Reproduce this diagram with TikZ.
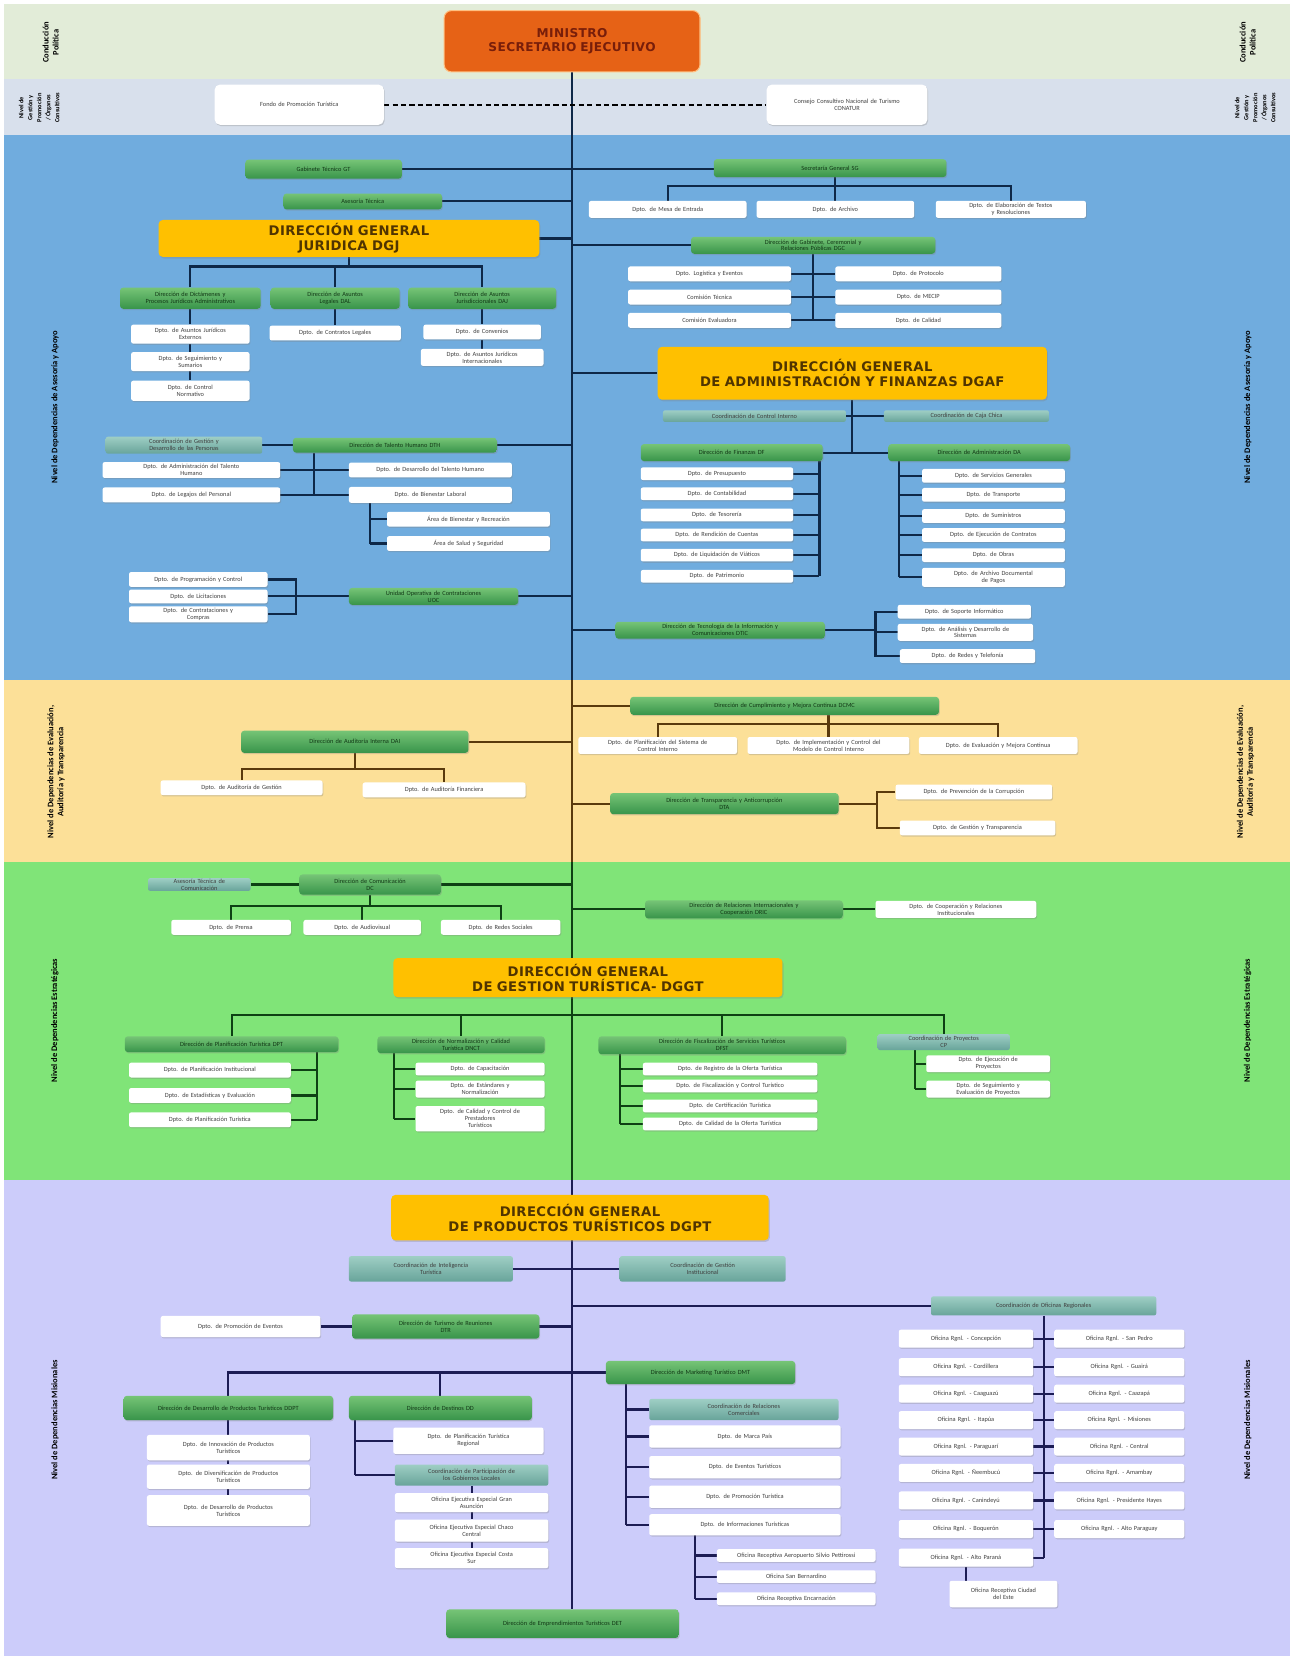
\documentclass[tikz,border=0pt]{standalone}
\usepackage{fontspec}
\setmainfont{Carlito}
\newfontfamily\headfont[LetterSpace=3.0]{DejaVu Sans}
\usetikzlibrary{shadows}

\definecolor{bandtop}{RGB}{226,236,216}
\definecolor{bandcons}{RGB}{216,224,236}
\definecolor{bandblue}{RGB}{112,172,222}
\definecolor{bandyel}{RGB}{252,224,152}
\definecolor{bandgrn}{RGB}{128,228,120}
\definecolor{bandpur}{RGB}{204,204,250}
\definecolor{orgorange}{RGB}{230,98,22}
\definecolor{ministxt}{RGB}{120,30,10}
\definecolor{orggold}{RGB}{255,192,0}
\definecolor{dirtxt}{RGB}{80,52,0}
\definecolor{grntop}{RGB}{118,196,118}
\definecolor{grnbot}{RGB}{56,148,74}
\definecolor{grntxt}{RGB}{18,56,22}
\definecolor{cortop}{RGB}{158,206,196}
\definecolor{corbot}{RGB}{104,164,154}
\definecolor{lnblue}{RGB}{14,40,72}
\definecolor{lnyel}{RGB}{90,58,12}
\definecolor{lngrn}{RGB}{14,64,20}
\definecolor{lnpur}{RGB}{28,28,84}

\pgfdeclarelayer{bands}
\pgfdeclarelayer{links}
\pgfsetlayers{bands,links,main}

\tikzset{
  sz/.style 2 args={minimum width=#1pt, text width=#1pt, minimum height=#2pt},
  boxtext/.style={inner xsep=0pt, inner ysep=0.5pt, align=center, font=\fontsize{6}{6.6}\selectfont},
  wbox/.style={boxtext, fill=white, rounded corners=2pt, text=black!75,
    drop shadow={shadow xshift=0.8pt, shadow yshift=-1.2pt, opacity=0.3}},
  gbox/.style={boxtext, top color=grntop, bottom color=grnbot, rounded corners=3pt, text=grntxt,
    drop shadow={shadow xshift=0.8pt, shadow yshift=-1.2pt, opacity=0.3}},
  cbox/.style={boxtext, top color=cortop, bottom color=corbot, rounded corners=2pt, text=black!75},
  dbox/.style={fill=orggold, rounded corners=4pt, inner sep=0pt, align=center, text=dirtxt,
    font=\headfont\bfseries\fontsize{12.5}{14}\selectfont,
    drop shadow={shadow xshift=1pt, shadow yshift=-1.5pt, opacity=0.3}},
  mbox/.style={fill=orgorange, draw=orange!50!white, line width=1pt, rounded corners=7pt,
    inner sep=0pt, align=center, text=ministxt, font=\headfont\bfseries\fontsize{11.5}{13.5}\selectfont},
  lvl/.style={rotate=90, align=center, inner sep=0pt, font=\bfseries\fontsize{8}{9.5}\selectfont},
  lnB/.style={draw=lnblue, line width=2pt},
  lnY/.style={draw=lnyel, line width=2pt},
  lnG/.style={draw=lngrn, line width=2pt},
  lnP/.style={draw=lnpur, line width=2pt},
}

\begin{document}
\begin{tikzpicture}[x=1pt,y=-1pt]
\useasboundingbox (0,0) rectangle (1223,1568);
\begin{pgfonlayer}{bands}
  \fill[white] (0,0) rectangle (1223,1568);
  \fill[bandtop] (4,4) rectangle (1220,75);
  \fill[bandcons] (4,75) rectangle (1220,128);
  \fill[bandblue] (4,128) rectangle (1220,643);
  \fill[bandyel] (4,643) rectangle (1220,815);
  \fill[bandgrn] (4,815) rectangle (1220,1116);
  \fill[bandpur] (4,1116) rectangle (1220,1566);
\end{pgfonlayer}

% levels
\node[lvl] (lvtl) at (48,40) {Conducción\\Política};
\node[lvl] (lvtr) at (1180,40) {Conducción\\Política};
\node[lvl, font=\bfseries\fontsize{6}{8.5}\selectfont] (lvcl) at (37,102) {Nivel de\\Gestión y\\Promoción\\/ Órganos\\Consultivos};
\node[lvl, font=\bfseries\fontsize{6}{8.5}\selectfont] (lvcr) at (1187,102) {Nivel de\\Gestión y\\Promoción\\/ Órganos\\Consultivos};
\node[lvl] (lvbl) at (52,385) {Nivel de Dependencias de Asesoría y Apoyo};
\node[lvl] (lvbr) at (1180,385) {Nivel de Dependencias de Asesoría y Apoyo};
\node[lvl] (lvyl) at (53,730) {Nivel de Dependencias de Evaluación,\\Auditoría y Transparencia};
\node[lvl] (lvyr) at (1178,730) {Nivel de Dependencias de Evaluación,\\Auditoría y Transparencia};
\node[lvl] (lvgl) at (52,965) {Nivel de Dependencias Estratégicas};
\node[lvl] (lvgr) at (1180,965) {Nivel de Dependencias Estratégicas};
\node[lvl] (lvpl) at (52,1343) {Nivel de Dependencias Misionales};
\node[lvl] (lvpr) at (1180,1343) {Nivel de Dependencias Misionales};

% conduccion
\node[mbox] (mnt) at (541,39) [sz={242}{58}] {MINISTRO\\SECRETARIO EJECUTIVO};
\node[wbox, rounded corners=5pt, font=\fontsize{6}{7}\selectfont] (fondo) at (283,99) [sz={160}{38}] {Fondo de Promoción Turística};
\node[wbox, rounded corners=5pt, font=\fontsize{6}{7}\selectfont] (conatur) at (801,99) [sz={152}{38}] {Consejo Consultivo Nacional de Turismo\\CONATUR};

% asesoria y apoyo
\node[gbox] (gt) at (306,160) [sz={148}{18}] {Gabinete Técnico GT};
\node[gbox] (sg) at (785,159) [sz={220}{17}] {Secretaría General SG};
\node[wbox] (sg1) at (631.5,198) [sz={149}{16}] {Dpto. de Mesa de Entrada};
\node[wbox] (sg2) at (790,198) [sz={149}{16}] {Dpto. de Archivo};
\node[wbox] (sg3) at (956,198) [sz={142}{16}] {Dpto. de Elaboración de Textos\\y Resoluciones};
\node[gbox] (ases) at (343,190.5) [sz={150}{15}] {Asesoría Técnica};
\node[dbox] (dgj) at (330,225.5) [sz={360}{35}] {DIRECCIÓN GENERAL\\JURIDICA DGJ};
\node[gbox] (dgab) at (769,232) [sz={231}{16}] {Dirección de Gabinete, Ceremonial y\\Relaciones Públicas DGC};
\node[wbox] (gl1) at (671,259) [sz={154}{14}] {Dpto. Logística y Eventos};
\node[wbox] (gl2) at (671,281) [sz={154}{14}] {Comisión Técnica};
\node[wbox] (gl3) at (671,303) [sz={154}{14}] {Comisión Evaluadora};
\node[wbox] (gr1) at (868.5,259) [sz={157}{14}] {Dpto. de Protocolo};
\node[wbox] (gr2) at (868.5,281) [sz={157}{14}] {Dpto. de MECIP};
\node[wbox] (gr3) at (868.5,303) [sz={157}{14}] {Dpto. de Calidad};
\node[gbox] (dj1) at (180,282) [sz={133}{20}] {Dirección de Dictámenes y\\Procesos Jurídicos Administrativos};
\node[gbox] (dj2) at (317,282) [sz={122}{20}] {Dirección de Asuntos\\Legales DAL};
\node[gbox] (dj3) at (456,282) [sz={140}{20}] {Dirección de Asuntos\\Jurisdiccionales DAJ};
\node[wbox] (dj1a) at (180,316) [sz={112}{18}] {Dpto. de Asuntos Jurídicos\\Externos};
\node[wbox] (dj1b) at (180,342) [sz={112}{18}] {Dpto. de Seguimiento y\\Sumarios};
\node[wbox] (dj1c) at (180,369.5) [sz={112}{19}] {Dpto. de Control\\Normativo};
\node[wbox] (dj2a) at (317,315) [sz={124}{14}] {Dpto. de Contratos Legales};
\node[wbox] (dj3a) at (456,314) [sz={111}{14}] {Dpto. de Convenios};
\node[wbox] (dj3b) at (456,338) [sz={116}{16}] {Dpto. de Asuntos Jurídicos\\Internacionales};
\node[dbox] (dgaf) at (806,353) [sz={368}{50}] {DIRECCIÓN GENERAL\\DE ADMINISTRACIÓN Y FINANZAS DGAF};
\node[cbox] (cc1) at (713.5,393.5) [sz={173}{11}] {Coordinación de Control Interno};
\node[cbox] (cc2) at (914,393.5) [sz={156}{11}] {Coordinación de Caja Chica};
\node[gbox] (df) at (692,428) [sz={172}{16}] {Dirección de Finanzas DF};
\node[gbox] (da) at (926,428) [sz={172}{16}] {Dirección de Administración DA};
\node[wbox] (df1) at (678,448) [sz={144}{12}] {Dpto. de Presupuesto};
\node[wbox] (df2) at (678,467) [sz={144}{12}] {Dpto. de Contabilidad};
\node[wbox] (df3) at (678,487) [sz={144}{12}] {Dpto. de Tesorería};
\node[wbox] (df4) at (678,506) [sz={144}{12}] {Dpto. de Rendición de Cuentas};
\node[wbox] (df5) at (678,525) [sz={144}{12}] {Dpto. de Liquidación de Viáticos};
\node[wbox] (df6) at (678,545) [sz={144}{12}] {Dpto. de Patrimonio};
\node[wbox] (da1) at (939.5,450) [sz={135}{13}] {Dpto. de Servicios Generales};
\node[wbox] (da2) at (939.5,468) [sz={135}{13}] {Dpto. de Transporte};
\node[wbox] (da3) at (939.5,488) [sz={135}{13}] {Dpto. de Suministros};
\node[wbox] (da4) at (939.5,506) [sz={135}{13}] {Dpto. de Ejecución de Contratos};
\node[wbox] (da5) at (939.5,525) [sz={135}{13}] {Dpto. de Obras};
\node[wbox] (da6) at (939.5,546) [sz={135}{18}] {Dpto. de Archivo Documental\\de Pagos};
\node[cbox] (cgp) at (174,421) [sz={148}{16}] {Coordinación de Gestión y\\Desarrollo de las Personas};
\node[gbox] (dth) at (373.5,421) [sz={193}{14}] {Dirección de Talento Humano DTH};
\node[wbox] (th1) at (181,444.5) [sz={168}{15}] {Dpto. de Administración del Talento\\Humano};
\node[wbox] (th2) at (181,468) [sz={168}{14}] {Dpto. de Legajos del Personal};
\node[wbox] (th3) at (407,444.5) [sz={154}{14}] {Dpto. de Desarrollo del Talento Humano};
\node[wbox] (th4) at (407,468) [sz={154}{15}] {Dpto. de Bienestar Laboral};
\node[wbox] (th5) at (443,491) [sz={154}{14}] {Área de Bienestar y Recreación};
\node[wbox] (th6) at (443,514) [sz={154}{14}] {Área de Salud y Seguridad};
\node[gbox] (uoc) at (410,564) [sz={160}{16}] {Unidad Operativa de Contrataciones\\UOC};
\node[wbox] (uo1) at (187.5,548) [sz={131}{14}] {Dpto. de Programación y Control};
\node[wbox] (uo2) at (187.5,564) [sz={131}{13}] {Dpto. de Licitaciones};
\node[wbox] (uo3) at (187.5,581) [sz={131}{15}] {Dpto. de Contrataciones y\\Compras};
\node[gbox] (dtic) at (681,596) [sz={198}{16}] {Dirección de Tecnología de la Información y\\Comunicaciones DTIC};
\node[wbox] (ti1) at (912,578.5) [sz={126}{13}] {Dpto. de Soporte Informático};
\node[wbox] (ti2) at (913,598) [sz={128}{16}] {Dpto. de Análisis y Desarrollo de\\Sistemas};
\node[wbox] (ti3) at (915,620.5) [sz={128}{13}] {Dpto. de Redes y Telefonía};

% evaluacion, auditoria y transparencia
\node[gbox] (dcm) at (742,667.5) [sz={292}{17}] {Dirección de Cumplimiento y Mejora Continua DCMC};
\node[wbox] (cm1) at (622,705) [sz={150}{16}] {Dpto. de Planificación del Sistema de\\Control Interno};
\node[wbox] (cm2) at (783.5,705) [sz={153}{16}] {Dpto. de Implementación y Control del\\Modelo de Control Interno};
\node[wbox] (cm3) at (944,705) [sz={150}{16}] {Dpto. de Evaluación y Mejora Continua};
\node[gbox] (dai) at (335.5,701.5) [sz={215}{21}] {Dirección de Auditoría Interna DAI};
\node[wbox] (ai1) at (228.5,745) [sz={153}{14}] {Dpto. de Auditoría de Gestión};
\node[wbox] (ai2) at (420,747) [sz={154}{14}] {Dpto. de Auditoría Financiera};
\node[gbox] (dta) at (685,760) [sz={216}{20}] {Dirección de Transparencia y Anticorrupción\\DTA};
\node[wbox] (ta1) at (921,749) [sz={148}{14}] {Dpto. de Prevención de la Corrupción};
\node[wbox] (ta2) at (924.5,783) [sz={147}{14}] {Dpto. de Gestión y Transparencia};

% estrategicas
\node[cbox] (atc) at (188.5,836.5) [sz={97}{12}] {Asesoría Técnica de\\Comunicación};
\node[gbox] (dcom) at (350,836.5) [sz={134}{19}] {Dirección de Comunicación\\DC};
\node[wbox] (co1) at (218.5,877) [sz={113}{14}] {Dpto. de Prensa};
\node[wbox] (co2) at (342.5,877) [sz={111}{14}] {Dpto. de Audiovisual};
\node[wbox] (co3) at (473.5,877) [sz={113}{14}] {Dpto. de Redes Sociales};
\node[gbox] (dri) at (703.5,860) [sz={187}{17}] {Dirección de Relaciones Internacionales y\\Cooperación DRIC};
\node[wbox] (ri1) at (904,860) [sz={152}{16}] {Dpto. de Cooperación y Relaciones\\Institucionales};
\node[dbox] (dggt) at (556,924.5) [sz={368}{37}] {DIRECCIÓN GENERAL\\DE GESTION TURÍSTICA- DGGT};
\node[gbox] (gt1) at (219,987.5) [sz={202}{15}] {Dirección de Planificación Turística DPT};
\node[gbox] (gt2) at (436,988) [sz={158}{16}] {Dirección de Normalización y Calidad\\Turística DNCT};
\node[gbox] (gt3) at (683,988.5) [sz={234}{17}] {Dirección de Fiscalización de Servicios Turísticos\\DFST};
\node[cbox] (gt4) at (892.5,985.5) [sz={125}{15}] {Coordinación de Proyectos\\CP};
\node[wbox] (gt1a) at (198.5,1012) [sz={153}{14}] {Dpto. de Planificación Institucional};
\node[wbox] (gt1b) at (198.5,1036) [sz={153}{14}] {Dpto. de Estadísticas y Evaluación};
\node[wbox] (gt1c) at (198.5,1059) [sz={153}{14}] {Dpto. de Planificación Turística};
\node[wbox] (gt2a) at (454,1011) [sz={122}{12}] {Dpto. de Capacitación};
\node[wbox] (gt2b) at (454,1030) [sz={122}{16}] {Dpto. de Estándares y\\Normalización};
\node[wbox] (gt2c) at (454,1058) [sz={122}{24}] {Dpto. de Calidad y Control de\\Prestadores\\Turísticos};
\node[wbox] (gt3a) at (690.5,1011) [sz={165}{12}] {Dpto. de Registro de la Oferta Turística};
\node[wbox] (gt3b) at (690.5,1027) [sz={165}{12}] {Dpto. de Fiscalización y Control Turístico};
\node[wbox] (gt3c) at (690.5,1046) [sz={165}{12}] {Dpto. de Certificación Turística};
\node[wbox] (gt3d) at (690.5,1063) [sz={165}{12}] {Dpto. de Calidad de la Oferta Turística};
\node[wbox] (gt4a) at (934.5,1006) [sz={117}{16}] {Dpto. de Ejecución de\\Proyectos};
\node[wbox] (gt4b) at (934.5,1030) [sz={117}{16}] {Dpto. de Seguimiento y\\Evaluación de Proyectos};

% misionales
\node[dbox] (dgpt) at (548.5,1151.5) [sz={357}{43}] {DIRECCIÓN GENERAL\\DE PRODUCTOS TURÍSTICOS DGPT};
\node[cbox] (ci1) at (407.5,1200) [sz={155}{24}] {Coordinación de Inteligencia\\Turística};
\node[cbox] (ci2) at (664.5,1200) [sz={157}{24}] {Coordinación de Gestión\\Institucional};
\node[cbox] (cor) at (987,1235) [sz={213}{18}] {Coordinación de Oficinas Regionales};
\node[gbox] (dtr) at (421.5,1254.5) [sz={177}{23}] {Dirección de Turismo de Reuniones\\DTR};
\node[wbox] (pe) at (227.5,1254.5) [sz={151}{20}] {Dpto. de Promoción de Eventos};
\node[gbox] (dp1) at (216,1331.5) [sz={198}{23}] {Dirección de Desarrollo de Productos Turísticos DDPT};
\node[gbox] (dp2) at (416.5,1331.5) [sz={173}{23}] {Dirección de Destinos DD};
\node[gbox] (dmt) at (662.5,1298) [sz={179}{22}] {Dirección de Marketing Turístico DMT};
\node[wbox] (dp1a) at (216,1369) [sz={154}{24}] {Dpto. de Innovación de Productos\\Turísticos};
\node[wbox] (dp1b) at (216,1396.5) [sz={154}{23}] {Dpto. de Diversificación de Productos\\Turísticos};
\node[wbox] (dp1c) at (216,1428.5) [sz={154}{29}] {Dpto. de Desarrollo de Productos\\Turísticos};
\node[wbox] (dd1) at (443,1362.5) [sz={142}{25}] {Dpto. de Planificación Turística\\Regional};
\node[cbox] (dd2) at (446,1395) [sz={145}{20}] {Coordinación de Participación de\\los Gobiernos Locales};
\node[wbox] (dd2a) at (446,1421) [sz={145}{18}] {Oficina Ejecutiva Especial Gran\\Asunción};
\node[wbox] (dd2b) at (446,1447.5) [sz={145}{21}] {Oficina Ejecutiva Especial Chaco\\Central};
\node[wbox] (dd2c) at (446,1473.5) [sz={145}{19}] {Oficina Ejecutiva Especial Costa\\Sur};
\node[cbox] (mk1) at (703.5,1333) [sz={179}{20}] {Coordinación de Relaciones\\Comerciales};
\node[wbox] (mk2) at (704.5,1358.5) [sz={181}{21}] {Dpto. de Marca País};
\node[wbox] (mk3) at (704.5,1387.5) [sz={181}{21}] {Dpto. de Eventos Turísticos};
\node[wbox] (mk4) at (704.5,1415.5) [sz={181}{21}] {Dpto. de Promoción Turística};
\node[wbox] (mk5) at (704.5,1442) [sz={181}{20}] {Dpto. de Informaciones Turísticas};
\node[wbox] (mo1) at (753,1471) [sz={150}{12}] {Oficina Receptiva Aeropuerto Silvio Pettirossi};
\node[wbox] (mo2) at (753,1491) [sz={150}{12}] {Oficina San Bernardino};
\node[wbox] (mo3) at (753,1512) [sz={150}{12}] {Oficina Receptiva Encarnación};
\node[wbox] (or1) at (913.5,1266) [sz={127}{17}] {Oficina Rgnl. - Concepción};
\node[wbox] (or2) at (913.5,1293) [sz={127}{17}] {Oficina Rgnl. - Cordillera};
\node[wbox] (or3) at (913.5,1318) [sz={127}{17}] {Oficina Rgnl. - Caaguazú};
\node[wbox] (or4) at (913.5,1343) [sz={127}{17}] {Oficina Rgnl. - Itapúa};
\node[wbox] (or5) at (913.5,1368) [sz={127}{17}] {Oficina Rgnl. - Paraguarí};
\node[wbox] (or6) at (913.5,1393) [sz={127}{17}] {Oficina Rgnl. - Ñeembucú};
\node[wbox] (or7) at (913.5,1419) [sz={127}{17}] {Oficina Rgnl. - Canindeyú};
\node[wbox] (or8) at (913.5,1446) [sz={127}{17}] {Oficina Rgnl. - Boquerón};
\node[wbox] (or9) at (913.5,1473) [sz={127}{17}] {Oficina Rgnl. - Alto Paraná};
\node[wbox] (os1) at (1058.5,1266) [sz={123}{17}] {Oficina Rgnl. - San Pedro};
\node[wbox] (os2) at (1058.5,1293) [sz={123}{17}] {Oficina Rgnl. - Guairá};
\node[wbox] (os3) at (1058.5,1318) [sz={123}{17}] {Oficina Rgnl. - Caazapá};
\node[wbox] (os4) at (1058.5,1343) [sz={123}{17}] {Oficina Rgnl. - Misiones};
\node[wbox] (os5) at (1058.5,1368) [sz={123}{17}] {Oficina Rgnl. - Central};
\node[wbox] (os6) at (1058.5,1393) [sz={123}{17}] {Oficina Rgnl. - Amambay};
\node[wbox] (os7) at (1058.5,1419) [sz={123}{17}] {Oficina Rgnl. - Presidente Hayes};
\node[wbox] (os8) at (1058.5,1446) [sz={123}{17}] {Oficina Rgnl. - Alto Paraguay};
\node[wbox] (orr) at (949,1507.5) [sz={102}{25}] {Oficina Receptiva Ciudad\\del Este};
\node[gbox] (bot) at (532,1535.5) [sz={220}{27}] {Dirección de Emprendimientos Turísticos DET};

\begin{pgfonlayer}{links}
% main line
\draw[lnB] (mnt.south) -- (mnt.south |- 0,643);
\draw[lnY] (mnt.south |- 0,643) -- (mnt.south |- 0,815);
\draw[lnG] (mnt.south |- 0,815) -- (mnt.south |- 0,1116);
\draw[lnP] (mnt.south |- 0,1116) -- (mnt.south |- bot.north);
\draw[black, line width=1.6pt, dash pattern=on 5pt off 3pt] (fondo.east) -- (conatur.west);

\draw[lnB] (gt.east) -- (gt.east -| sg.west);
\coordinate (sgbar) at (790,176);
\draw[lnB] (sg2.north |- sg.south) -- (sg2.north);
\draw[lnB] (sg1.north) |- (sgbar) -| (sg3.north);
\draw[lnB] (ases.east) -- (ases.east -| mnt.south);
\draw[lnB] (dgj.east) -- (dgj.east -| mnt.south);
\draw[lnB] (mnt.south |- dgab.west) -- (dgab.west);
\draw[lnB] (dgab.south) -- (dgab.south |- gl3.east);
\draw[lnB] (gl1.east) -- (gr1.west);
\draw[lnB] (gl2.east) -- (gr2.west);
\draw[lnB] (gl3.east) -- (gr3.west);
\coordinate (dgjbar) at (330,252);
\draw[lnB] (dgj.south) -- (dgjbar);
\draw[lnB] (dj1.north) |- (dgjbar) -| (dj3.north);
\draw[lnB] (dj2.north) -- (dj2.north |- dgjbar);
\draw[lnB] (dj1.south) -- (dj1a.north);
\draw[lnB] (dj1a.south) -- (dj1b.north);
\draw[lnB] (dj1b.south) -- (dj1c.north);
\draw[lnB] (dj2.south) -- (dj2a.north);
\draw[lnB] (dj3.south) -- (dj3a.north);
\draw[lnB] (dj3a.south) -- (dj3b.north);

\draw[lnB] (mnt.south |- dgaf.west) -- (dgaf.west);
\draw[lnB] (dgaf.south) -- (dgaf.south |- df.east);
\draw[lnB] (cc1.east) -- (cc2.west);
\draw[lnB] (df.east) -- (da.west);
\coordinate (dfsp) at (775,436);
\draw[lnB] (dfsp) -- (dfsp |- df6.east);
\draw[lnB] (df1.east) -- (df1.east -| dfsp);
\draw[lnB] (df2.east) -- (df2.east -| dfsp);
\draw[lnB] (df3.east) -- (df3.east -| dfsp);
\draw[lnB] (df4.east) -- (df4.east -| dfsp);
\draw[lnB] (df5.east) -- (df5.east -| dfsp);
\draw[lnB] (df6.east) -- (df6.east -| dfsp);
\coordinate (dasp) at (850,436);
\draw[lnB] (dasp) -- (dasp |- da6.west);
\draw[lnB] (da1.west -| dasp) -- (da1.west);
\draw[lnB] (da2.west -| dasp) -- (da2.west);
\draw[lnB] (da3.west -| dasp) -- (da3.west);
\draw[lnB] (da4.west -| dasp) -- (da4.west);
\draw[lnB] (da5.west -| dasp) -- (da5.west);
\draw[lnB] (da6.west -| dasp) -- (da6.west);

\draw[lnB] (dth.east) -- (dth.east -| mnt.south);
\draw[lnB] (cgp.east) -- (dth.west);
\coordinate (thsp) at (297,428);
\draw[lnB] (thsp) -- (thsp |- th2.east);
\draw[lnB] (th1.east) -- (th3.west);
\draw[lnB] (th2.east) -- (th4.west);
\coordinate (th4sp) at (350,476);
\draw[lnB] (th4sp) -- (th4sp |- th6.west);
\draw[lnB] (th5.west -| th4sp) -- (th5.west);
\draw[lnB] (th6.west -| th4sp) -- (th6.west);

\draw[lnB] (uoc.east) -- (uoc.east -| mnt.south);
\coordinate (uosp) at (280,564);
\draw[lnB] (uoc.west) -- (uosp);
\draw[lnB] (uo1.east) -| (uosp);
\draw[lnB] (uo3.east) -| (uosp);
\draw[lnB] (uo2.east) -- (uo2.east -| uosp);

\draw[lnB] (mnt.south |- dtic.west) -- (dtic.west);
\coordinate (tisp) at (828,596);
\draw[lnB] (dtic.east) -- (tisp);
\draw[lnB] (ti1.west) -| (tisp);
\draw[lnB] (ti3.west) -| (tisp);
\draw[lnB] (ti2.west -| tisp) -- (ti2.west);

% evaluacion
\draw[lnY] (mnt.south |- dcm.west) -- (dcm.west);
\coordinate (cmbar) at (783.5,685);
\draw[lnY] (cm2.north |- dcm.south) -- (cm2.north);
\draw[lnY] (cm1.north) |- (cmbar) -| (cm3.north);
\draw[lnY] (dai.east) -- (dai.east -| mnt.south);
\coordinate (aibar) at (335.5,727);
\draw[lnY] (dai.south) -- (aibar);
\draw[lnY] (ai1.north) |- (aibar) -| (ai2.north);
\draw[lnY] (mnt.south |- dta.west) -- (dta.west);
\coordinate (tasp) at (829,760);
\draw[lnY] (dta.east) -- (tasp);
\draw[lnY] (ta1.west) -| (tasp);
\draw[lnY] (ta2.west) -| (tasp);

% estrategicas
\draw[lnG] (atc.east) -- (dcom.west);
\draw[lnG] (dcom.east) -- (dcom.east -| mnt.south);
\coordinate (cobar) at (350,857);
\draw[lnG] (dcom.south) -- (cobar);
\draw[lnG] (co1.north) |- (cobar) -| (co3.north);
\draw[lnG] (co2.north) -- (co2.north |- cobar);
\draw[lnG] (mnt.south |- dri.west) -- (dri.west);
\draw[lnG] (dri.east) -- (ri1.west);
\coordinate (ggbar) at (mnt.south |- 0,960);
\draw[lnG] (gt1.north) |- (ggbar) -| (gt4.north);
\draw[lnG] (gt2.north) -- (gt2.north |- ggbar);
\draw[lnG] (gt3.north) -- (gt3.north |- ggbar);
\coordinate (gt1sp) at (300,995);
\draw[lnG] (gt1sp) -- (gt1sp |- gt1c.east);
\draw[lnG] (gt1a.east) -- (gt1a.east -| gt1sp);
\draw[lnG] (gt1b.east) -- (gt1b.east -| gt1sp);
\draw[lnG] (gt1c.east) -- (gt1c.east -| gt1sp);
\coordinate (gt2sp) at (373,996);
\draw[lnG] (gt2sp) -- (gt2sp |- gt2c.west);
\draw[lnG] (gt2a.west -| gt2sp) -- (gt2a.west);
\draw[lnG] (gt2b.west -| gt2sp) -- (gt2b.west);
\draw[lnG] (gt2c.west -| gt2sp) -- (gt2c.west);
\coordinate (gt3sp) at (586,997);
\draw[lnG] (gt3sp) -- (gt3sp |- gt3d.west);
\draw[lnG] (gt3a.west -| gt3sp) -- (gt3a.west);
\draw[lnG] (gt3b.west -| gt3sp) -- (gt3b.west);
\draw[lnG] (gt3c.west -| gt3sp) -- (gt3c.west);
\draw[lnG] (gt3d.west -| gt3sp) -- (gt3d.west);
\coordinate (gt4sp) at (865,993);
\draw[lnG] (gt4sp) -- (gt4sp |- gt4b.west);
\draw[lnG] (gt4a.west -| gt4sp) -- (gt4a.west);
\draw[lnG] (gt4b.west -| gt4sp) -- (gt4b.west);

% misionales
\draw[lnP] (ci1.east) -- (ci2.west);
\draw[lnP] (mnt.south |- cor.west) -- (cor.west);
\draw[lnP] (dtr.east) -- (dtr.east -| mnt.south);
\draw[lnP] (pe.east) -- (dtr.west);
\coordinate (dpbar) at (mnt.south |- 0,1298);
\draw[lnP] (dp1.north) |- (dpbar) -- (dmt.west);
\draw[lnP] (dp2.north) -- (dp2.north |- dpbar);
\draw[lnP] (dp1.south) -- (dp1a.north);
\draw[lnP] (dp1a.south) -- (dp1b.north);
\draw[lnP] (dp1b.south) -- (dp1c.north);
\coordinate (dp2sp) at (336,1343);
\draw[lnP] (dp2sp) -- (dp2sp |- dd2.west);
\draw[lnP] (dd1.west -| dp2sp) -- (dd1.west);
\draw[lnP] (dd2.west -| dp2sp) -- (dd2.west);
\draw[lnP] (dd2.south) -- (dd2a.north);
\draw[lnP] (dd2a.south) -- (dd2b.north);
\draw[lnP] (dd2b.south) -- (dd2c.north);
\coordinate (dmtsp) at (592,1309);
\draw[lnP] (dmtsp) -- (dmtsp |- mk5.west);
\draw[lnP] (mk1.west -| dmtsp) -- (mk1.west);
\draw[lnP] (mk2.west -| dmtsp) -- (mk2.west);
\draw[lnP] (mk3.west -| dmtsp) -- (mk3.west);
\draw[lnP] (mk4.west -| dmtsp) -- (mk4.west);
\draw[lnP] (mk5.west -| dmtsp) -- (mk5.west);
\coordinate (mk5sp) at (657,1452);
\draw[lnP] (mk5sp) -- (mk5sp |- mo3.west);
\draw[lnP] (mo1.west -| mk5sp) -- (mo1.west);
\draw[lnP] (mo2.west -| mk5sp) -- (mo2.west);
\draw[lnP] (mo3.west -| mk5sp) -- (mo3.west);
\draw[lnP] (cor.south) -- (cor.south |- or9.east);
\draw[lnP] (or1.east) -- (os1.west);
\draw[lnP] (or2.east) -- (os2.west);
\draw[lnP] (or3.east) -- (os3.west);
\draw[lnP] (or4.east) -- (os4.west);
\draw[lnP] (or5.east) -- (os5.west);
\draw[lnP] (or6.east) -- (os6.west);
\draw[lnP] (or7.east) -- (os7.west);
\draw[lnP] (or8.east) -- (os8.west);
\draw[lnP] (or9.east) -- (or9.east -| cor.south);
\draw[lnP] (or9.south) -- (or9.south |- orr.north);
\end{pgfonlayer}
\end{tikzpicture}
\end{document}
